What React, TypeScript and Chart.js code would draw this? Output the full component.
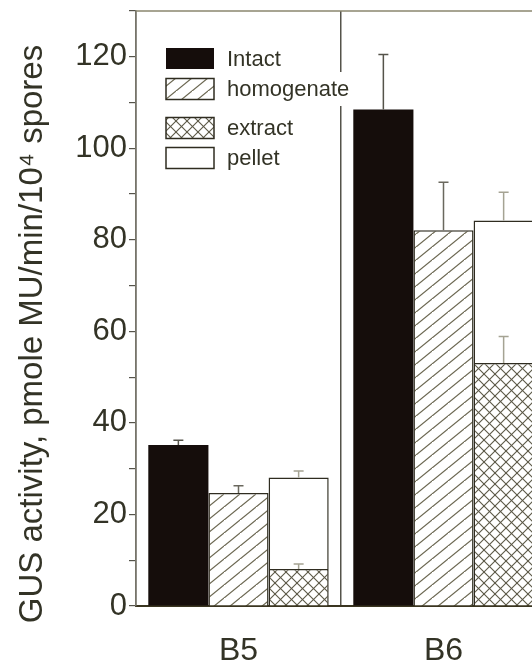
import React, { useEffect, useRef } from "react";
import { Chart, registerables } from "chart.js";

Chart.register(...registerables);

// ---- data ----
const categories = ["B5", "B6"];
const seriesNames = ["Intact", "homogenate", "extract", "pellet"];
const intact = [35.2, 108.5];
const intactErr = [1.0, 12.0];
const homogenate = [24.7, 82.1];
const homogenateErr = [1.6, 10.5];
const extract = [8.1, 53.1];
const extractErr = [1.1, 5.8];
const pellet = [20.0, 31.1]; // portion stacked above extract
const pelletErr = [1.4, 6.2];
const yMin = 0;
const yMax = 130;
const yLabelStep = 20;
const yMinorStep = 10;
const yTitle = "GUS activity, pmole MU/min/10\u2074 spores";

const FONT = '"Liberation Sans", Arial, sans-serif';
const TEXT = "#333326";
const EDGE = "#2f2c20";

function hatchPattern(): CanvasPattern {
  const w = 16, h = 13;
  const c = document.createElement("canvas");
  c.width = w; c.height = h;
  const g = c.getContext("2d")!;
  g.fillStyle = "#ffffff";
  g.fillRect(0, 0, w, h);
  g.strokeStyle = "#6a6650";
  g.lineWidth = 1.2;
  for (let k = 0; k <= 2; k++) {
    g.beginPath();
    g.moveTo(k * w, 0);
    g.lineTo(0, k * h);
    g.stroke();
  }
  return g.createPattern(c, "repeat")!;
}

function crossPattern(): CanvasPattern {
  const s = 11;
  const c = document.createElement("canvas");
  c.width = s; c.height = s;
  const g = c.getContext("2d")!;
  g.fillStyle = "#ffffff";
  g.fillRect(0, 0, s, s);
  g.strokeStyle = "#5a5745";
  g.lineWidth = 1.1;
  for (let k = 0; k <= 2; k++) {
    g.beginPath();
    g.moveTo(k * s, 0);
    g.lineTo(0, k * s);
    g.stroke();
  }
  for (let k = -1; k <= 1; k++) {
    g.beginPath();
    g.moveTo(k * s, 0);
    g.lineTo(k * s + s, s);
    g.stroke();
  }
  return g.createPattern(c, "repeat")!;
}

export default function App() {
  const ref = useRef<HTMLCanvasElement | null>(null);

  useEffect(() => {
    const canvas = ref.current!;
    const hatch = hatchPattern();
    const cross = crossPattern();
    const errors = [intactErr, homogenateErr, extractErr, pelletErr];
    const errColors = ["#55534a", "#6a685e", "#a5a393", "#a5a393"];

    const framePlugin = {
      id: "frame",
      beforeDatasetsDraw(chart: any) {
        const { ctx, chartArea } = chart;
        ctx.save();
        ctx.strokeStyle = "#8a866e";
        ctx.lineWidth = 1.5;
        ctx.beginPath();
        ctx.moveTo(chartArea.left, chartArea.top);
        ctx.lineTo(chart.width, chartArea.top);
        ctx.stroke();
        ctx.restore();
      },
    };

    const errorPlugin = {
      id: "errbars",
      afterDatasetsDraw(chart: any) {
        const { ctx } = chart;
        const ys = chart.scales.y;
        const ppu = ys.getPixelForValue(0) - ys.getPixelForValue(1);
        ctx.save();
        chart.data.datasets.forEach((ds: any, d: number) => {
          const meta = chart.getDatasetMeta(d);
          meta.data.forEach((el: any, i: number) => {
            const e = errors[d][i];
            const top = el.y - e * ppu;
            ctx.strokeStyle = errColors[d];
            ctx.lineWidth = 1.5;
            ctx.beginPath();
            ctx.moveTo(el.x, el.y);
            ctx.lineTo(el.x, top);
            ctx.moveTo(el.x - 5, top);
            ctx.lineTo(el.x + 5, top);
            ctx.stroke();
          });
        });
        ctx.restore();
      },
    };

    const legendRows = [58.5, 89, 128, 158];
    const legendPlugin = {
      id: "customLegend",
      afterDraw(chart: any) {
        const { ctx } = chart;
        const boxX = 166, boxW = 48, boxH = 21, textX = 227;
        ctx.save();
        ctx.font = `22px ${FONT}`;
        ctx.textBaseline = "middle";
        ctx.textAlign = "left";
        chart.data.datasets.forEach((ds: any, d: number) => {
          const yc = legendRows[d];
          const label = ds.label;
          const tw = ctx.measureText(label).width;
          ctx.fillStyle = "#ffffff";
          ctx.fillRect(textX - 2, yc - 17, tw + 4, 34);
          ctx.fillStyle = ds.backgroundColor;
          ctx.fillRect(boxX, yc - boxH / 2, boxW, boxH);
          if (ds.borderWidth) {
            ctx.strokeStyle = EDGE;
            ctx.lineWidth = 1.5;
            ctx.strokeRect(boxX, yc - boxH / 2, boxW, boxH);
          }
          ctx.fillStyle = TEXT;
          ctx.fillText(label, textX, yc + 1);
        });
        ctx.restore();
      },
    };

    const titlePlugin = {
      id: "yTitle",
      afterDraw(chart: any) {
        const { ctx } = chart;
        ctx.save();
        ctx.translate(33, 334);
        ctx.rotate(-Math.PI / 2);
        ctx.font = `33px ${FONT}`;
        ctx.fillStyle = TEXT;
        ctx.textAlign = "center";
        ctx.textBaseline = "middle";
        ctx.fillText(yTitle, 0, 0);
        ctx.restore();
      },
    };

    const chart = new Chart(canvas, {
      type: "bar",
      data: {
        labels: categories,
        datasets: [
          { label: seriesNames[0], data: intact, backgroundColor: "#150d0b", borderWidth: 0, stack: "a" },
          { label: seriesNames[1], data: homogenate, backgroundColor: hatch as any, borderColor: EDGE, borderWidth: 1.5, stack: "b" },
          { label: seriesNames[2], data: extract, backgroundColor: cross as any, borderColor: EDGE, borderWidth: 1.5, stack: "c" },
          { label: seriesNames[3], data: pellet, backgroundColor: "#ffffff", borderColor: EDGE, borderWidth: 1.5, stack: "c" },
        ],
      },
      options: {
        responsive: false,
        animation: false,
        devicePixelRatio: 1,
        layout: { padding: { top: 11, left: 0, right: 0, bottom: 0 } },
        datasets: { bar: { categoryPercentage: 0.88, barPercentage: 1.0 } },
        plugins: { legend: { display: false }, tooltip: { enabled: false } },
        scales: {
          x: {
            stacked: true,
            grid: { offset: true, color: "#55534a", lineWidth: 1.5, drawTicks: false },
            border: { color: "#3a3520", width: 2 },
            ticks: { font: { family: FONT, size: 32 }, color: TEXT, padding: 26 },
            afterFit(scale: any) { scale.height = 63; scale.paddingLeft = 0; scale.paddingRight = 0; },
          },
          y: {
            stacked: true,
            min: yMin,
            max: yMax,
            ticks: {
              stepSize: yMinorStep,
              autoSkip: false,
              font: { family: FONT, size: 31 },
              color: TEXT,
              padding: 2,
              callback: (v: any) => (Number(v) % yLabelStep === 0 && Number(v) <= 120 ? String(v) : ""),
            },
            grid: { drawOnChartArea: false, tickLength: 7, color: "#55534a", lineWidth: 1.2 },
            border: { color: "#77756a", width: 1.5 },
            afterFit(scale: any) { scale.width = 136; scale.paddingTop = 0; scale.paddingBottom = 0; },
          },
        },
      },
      plugins: [framePlugin, errorPlugin, legendPlugin, titlePlugin],
    });
    return () => chart.destroy();
  }, []);

  return (
    <div style={{ position: "fixed", left: 0, top: 0, width: 532, height: 669, overflow: "hidden", background: "#fff" }}>
      <canvas ref={ref} width={546} height={669} style={{ display: "block", width: 546, height: 669 }} />
    </div>
  );
}
